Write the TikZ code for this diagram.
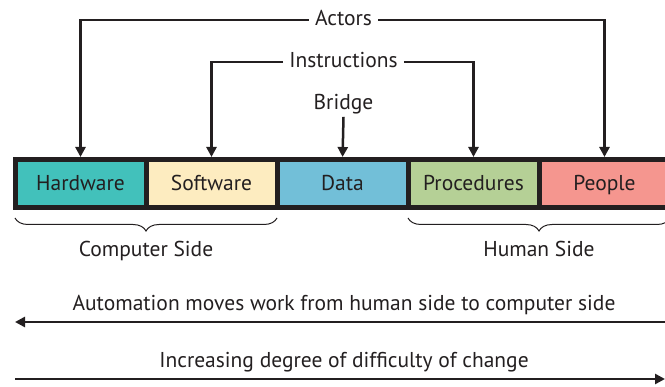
\documentclass[tikz,border=0pt]{standalone}
\usepackage{fontspec}
\setmainfont{PT Sans}
\usepackage{tikz}
\usetikzlibrary{arrows.meta, positioning, decorations.pathreplacing}
\definecolor{mydark}{RGB}{35,31,32}
\definecolor{hwteal}{RGB}{66,193,187}
\definecolor{swcream}{RGB}{253,236,192}
\definecolor{datablue}{RGB}{114,191,216}
\definecolor{procgreen}{RGB}{181,208,150}
\definecolor{peoplered}{RGB}{245,150,143}
\tikzset{
  part/.style={rectangle, draw=mydark, line width=5pt, outer sep=0pt,
    minimum width=131pt, minimum height=48pt, inner sep=0pt,
    text height=16.5pt, text depth=2pt,
    font=\fontsize{21.5}{24}\selectfont, text=mydark},
  tag/.style={font=\fontsize{21.5}{24}\selectfont, text=mydark, inner sep=6pt,
    text height=15.5pt, text depth=4pt},
  arrow/.style={-{Triangle[length=10pt,width=10pt]}, line width=2.5pt, color=mydark},
  brace/.style={decorate, decoration={brace, amplitude=13pt}, line width=1pt, color=mydark}
}

\begin{document}
\begin{tikzpicture}[x=1pt, y=-1pt]
  \useasboundingbox (0,0) rectangle (665,387);
  \clip (0,0) rectangle (665,387);

  % the five components in one row
  \node[part, fill=hwteal] (hw) at (80.5,183.5) {Hardware};
  \node[part, fill=swcream, right=0pt of hw] (sw) {Software};
  \node[part, fill=datablue, right=0pt of sw] (data) {Data};
  \node[part, fill=procgreen, right=0pt of data] (proc) {Procedures};
  \node[part, fill=peoplered, right=0pt of proc] (ppl) {People};

  % labels above
  \node[tag] (actors) at (343.5,20) {Actors};
  \node[tag] (instr) at (343.5,62) {Instructions};
  \node[tag, inner sep=3pt] (bridge) at (343.5,104) {Bridge};

  \draw[arrow, shorten >=2.5pt] (actors.west) -| (hw.north);
  \draw[arrow, shorten >=2.5pt] (actors.east) -| (ppl.north);
  \draw[arrow, shorten >=2.5pt] (instr.west) -| (sw.north);
  \draw[arrow, shorten >=2.5pt] (instr.east) -| (proc.north);
  \draw[arrow, shorten >=2.5pt] (bridge.south) -- (data.north);

  % sides
  \draw[brace] ([yshift=-10.5pt]sw.south east) -- ([yshift=-10.5pt]hw.south west);
  \draw[brace] ([yshift=-10.5pt]ppl.south east) -- ([yshift=-10.5pt]proc.south west);
  \node[tag] (cside) at (146,251) {Computer Side};
  \node[tag] (hside) at (539,251) {Human Side};

  % direction arrows
  \coordinate (autoR) at (666,322);
  \coordinate (autoL) at (15,322);
  \coordinate (diffL) at (15,379);
  \coordinate (diffR) at (665,379);
  \node[tag] (auto) at (344,305) {Automation moves work from human side to computer side};
  \node[tag] (diff) at (344,362) {Increasing degree of difficulty of change};
  \draw[arrow] (autoR) -- (autoL);
  \draw[arrow] (diffL) -- (diffR);
\end{tikzpicture}
\end{document}
